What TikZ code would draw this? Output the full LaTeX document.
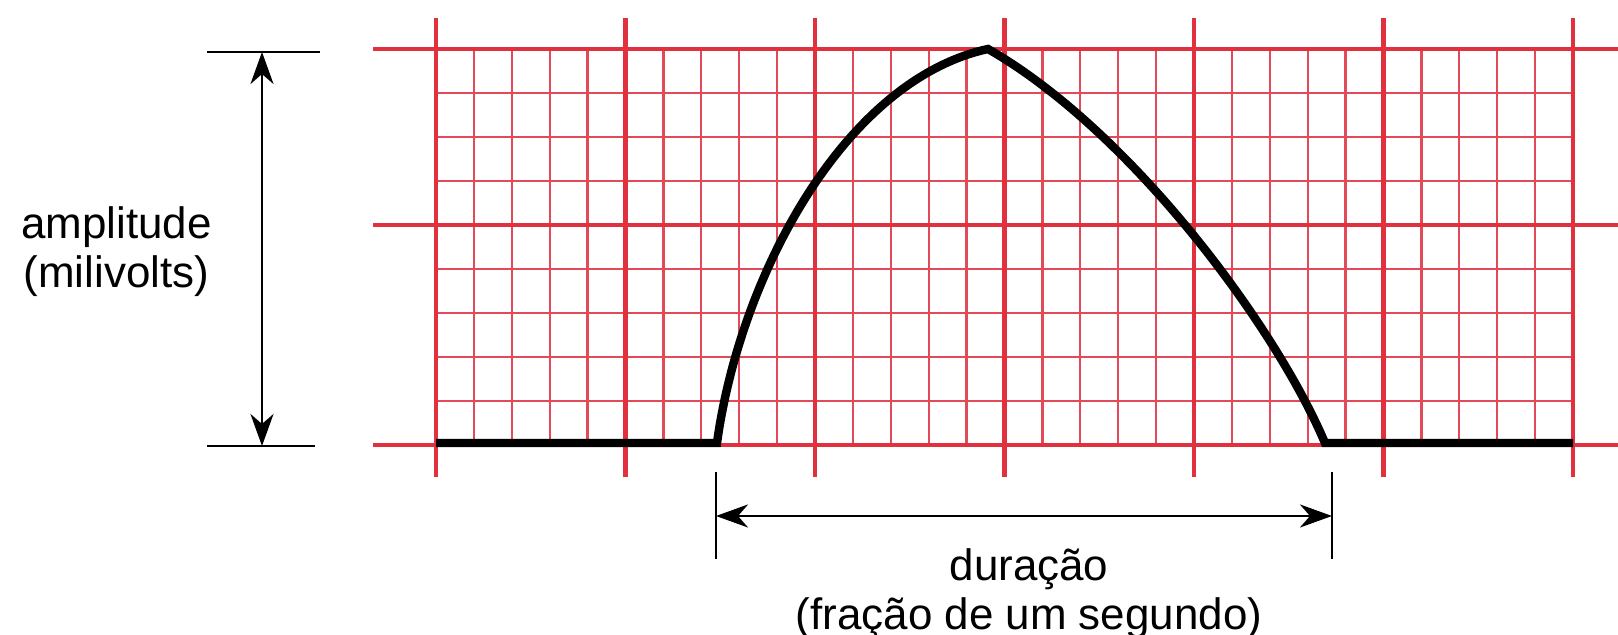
\documentclass[tikz,border=0pt]{standalone}
\usepackage{fontspec}
\setmainfont{Liberation Sans}
\usetikzlibrary{arrows.meta}

\begin{document}
\begin{tikzpicture}[
  font=\fontsize{12.5}{15}\selectfont,
  minor/.style={draw=ecgminor, line width=0.65pt},
  major/.style={draw=ecgred, line width=1.3pt},
  wave/.style={draw=black, line width=2.4pt, line join=miter},
  dim/.style={draw=black, line width=0.8pt},
  dimarrow/.style={dim, {Stealth[length=3.2mm, width=2.3mm, inset=1mm]}-{Stealth[length=3.2mm, width=2.3mm, inset=1mm]}},
  lbl/.style={anchor=base, inner sep=0pt},
]
\definecolor{ecgred}{HTML}{E1303E}
\definecolor{ecgminor}{HTML}{E24A58}

\useasboundingbox (0,0) rectangle (16.18,6.35);

% ---- small squares ----
\foreach \i in {0,...,30}
  \draw[minor] (4.36+\i*0.379,1.90) -- (4.36+\i*0.379,5.86);
\foreach \j in {0,...,9}
  \draw[minor] (4.36,1.90+\j*0.44) -- (15.73,1.90+\j*0.44);

% ---- large squares ----
\foreach \i in {0,...,6}
  \draw[major] (4.36+\i*1.895,1.58) -- (4.36+\i*1.895,6.17);
\foreach \y in {1.90,4.10,5.86}
  \draw[major] (3.73,\y) -- (16.18,\y);

% ---- wave ----
\draw[wave] (4.36,1.92) -- (7.17,1.92)
  .. controls (7.40,3.60) and (8.45,5.55) .. (9.88,5.86)
  .. controls (11.30,5.05) and (12.75,3.10) .. (13.25,1.92)
  -- (15.73,1.92);

% ---- amplitude ----
\coordinate (amptop) at (2.62,5.83);
\coordinate (ampbot) at (2.62,1.89);
\draw[dim] ([xshift=-5.5mm]amptop) -- ([xshift=5.8mm]amptop);
\draw[dim] ([xshift=-5.5mm]ampbot) -- ([xshift=5.3mm]ampbot);
\draw[dimarrow] (amptop) -- (ampbot);
\node[lbl] (amplabel) at (1.165,3.96) {amplitude};
\node[lbl] (ampunit) at (1.165,3.47) {(milivolts)};

% ---- duration ----
\coordinate (durl) at (7.16,1.19);
\coordinate (durr) at (13.32,1.19);
\draw[dim] ([yshift=4.4mm]durl) -- ([yshift=-4.3mm]durl);
\draw[dim] ([yshift=4.4mm]durr) -- ([yshift=-4.3mm]durr);
\draw[dimarrow] (durl) -- (durr);
\node[lbl] (durlabel) at (10.29,0.54) {duração};
\node[lbl] (durunit) at (10.29,0.05) {(fração de um segundo)};
\end{tikzpicture}
\end{document}
